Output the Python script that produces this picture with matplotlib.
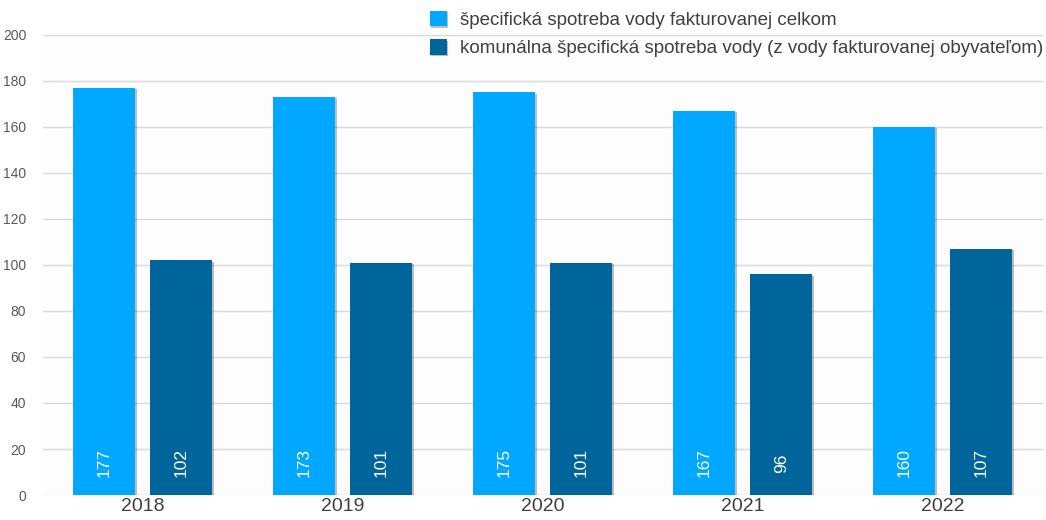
import matplotlib
matplotlib.use("Agg")
import matplotlib.pyplot as plt
import matplotlib.patheffects as pe
import numpy as np

plt.rcParams['font.family'] = ['Liberation Sans', 'DejaVu Sans']

years = ["2018", "2019", "2020", "2021", "2022"]
total = [177, 173, 175, 167, 160]
communal = [102, 101, 101, 96, 107]
series_names = [
    "špecifická spotreba vody fakturovanej celkom",
    "komunálna špecifická spotreba vody (z vody fakturovanej obyvateľom)",
]
colors = ["#00A9FF", "#00659B"]
yticks = [0, 20, 40, 60, 80, 100, 120, 140, 160, 180, 200]

fig = plt.figure(figsize=(10.46, 5.2), dpi=100)
ax = fig.add_axes([0.041, 0.048, 0.956, 0.885])
ax.set_facecolor("#fdfdfd")

x = np.arange(len(years))
width = 0.31
offset = 0.193
shadow = [pe.SimplePatchShadow(offset=(1, -1), shadow_rgbFace="#000000", alpha=0.25), pe.Normal()]

for vals, dx, col, name in zip([total, communal], [-offset, offset], colors, series_names):
    bars = ax.bar(x + dx, vals, width, color=col, label=name, zorder=3)
    for b, v in zip(bars, vals):
        b.set_path_effects(shadow)
        ax.text(b.get_x() + b.get_width() / 2, 14, str(v), rotation=90,
                ha="center", va="center", color="white", fontsize=12.5, zorder=4)

ax.set_xlim(-0.5, len(years) - 0.5)
ax.set_ylim(0, 200)
ax.set_yticks(yticks)
ax.set_xticks(x)
ax.set_xticklabels(years, fontsize=14, color="#404040")
ax.tick_params(axis="y", labelsize=10, colors="#595959", length=0, pad=12)
ax.tick_params(axis="x", length=0, pad=2)
ax.grid(axis="y", color="#d9d9d9", linewidth=1, zorder=0)
for s in ax.spines.values():
    s.set_visible(False)

fig.legend(loc="upper left", bbox_to_anchor=(0.395, 1.012), frameon=False,
           fontsize=13.5, handlelength=0.9, handleheight=0.9, handletextpad=0.7,
           labelspacing=0.55, labelcolor="#404040")

fig.savefig("out.png", dpi=100)
